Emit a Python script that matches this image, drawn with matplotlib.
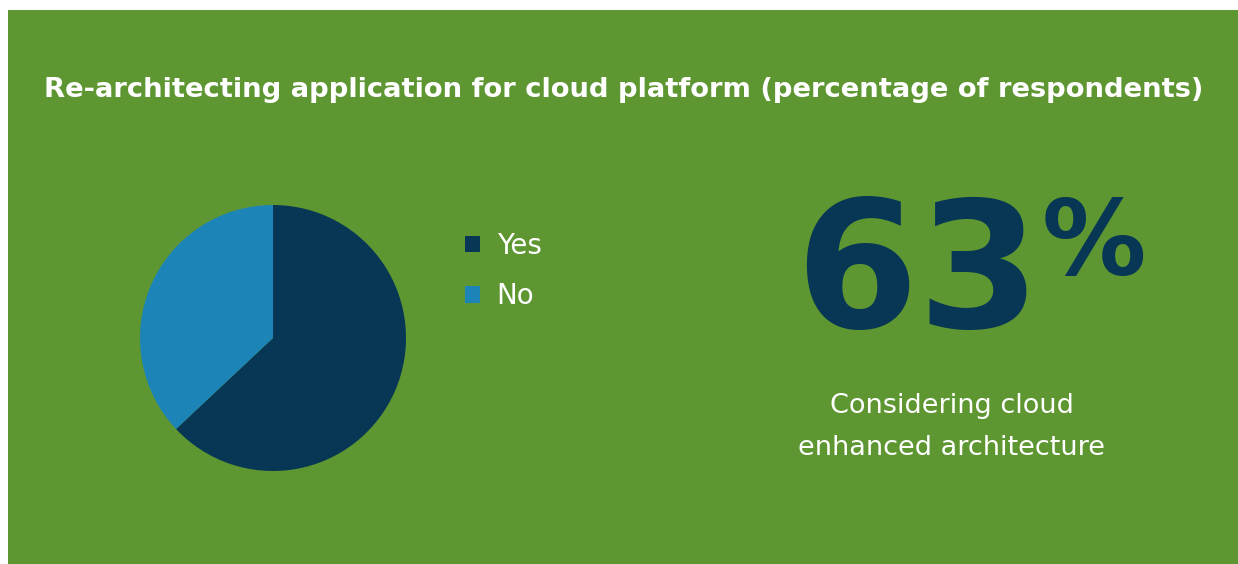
import matplotlib
matplotlib.use("Agg")
import matplotlib.pyplot as plt
from matplotlib.patches import Rectangle

# data
labels = ["Yes", "No"]
shares = [63, 37]
colors = ["#073754", "#1c84b6"]
title = "Re-architecting application for cloud platform (percentage of respondents)"
headline = "63"
caption = ["Considering cloud", "enhanced architecture"]

W, H = 1238, 564
green = "#5e9732"
plt.rcParams["font.family"] = ["DejaVu Sans"]

fig = plt.figure(figsize=(W / 100, H / 100), dpi=100)
fig.patch.set_facecolor("white")

# background panel + text layer in pixel coords
bg = fig.add_axes([0, 0, 1, 1])
bg.set_xlim(0, W)
bg.set_ylim(H, 0)
bg.axis("off")
bg.add_patch(Rectangle((8, 10), W - 8, H - 10, facecolor=green, edgecolor="none"))

bg.text(624, 90, title, color="white", fontsize=19.7, fontweight="bold",
        ha="center", va="center")

# pie
r, cx, cy = 133, 273, 338
pax = fig.add_axes([(cx - r) / W, (H - cy - r) / H, 2 * r / W, 2 * r / H])
wedges, _ = pax.pie(shares, colors=colors, startangle=90, counterclock=False,
                    wedgeprops=dict(linewidth=0))
pax.set_xlim(-1, 1)
pax.set_ylim(-1, 1)
pax.set_aspect("equal")

leg = fig.legend(wedges, labels, loc="upper left",
                 bbox_to_anchor=(440 / W, 1 - 207 / H), frameon=False,
                 fontsize=20, handlelength=0.54, handleheight=0.54,
                 handletextpad=0.6, labelspacing=0.81)
for t in leg.get_texts():
    t.set_color("white")

# big number
bg.text(1040, 328, headline, color="#073754", fontsize=127, fontweight="bold",
        ha="right", va="baseline")
bg.text(1042, 275, "%", color="#073754", fontsize=75, fontweight="bold",
        ha="left", va="baseline")

for i, line in enumerate(caption):
    bg.text(952, 406 + 42 * i, line, color="white", fontsize=19.5,
            ha="center", va="center")

fig.savefig("out.png", dpi=100)
